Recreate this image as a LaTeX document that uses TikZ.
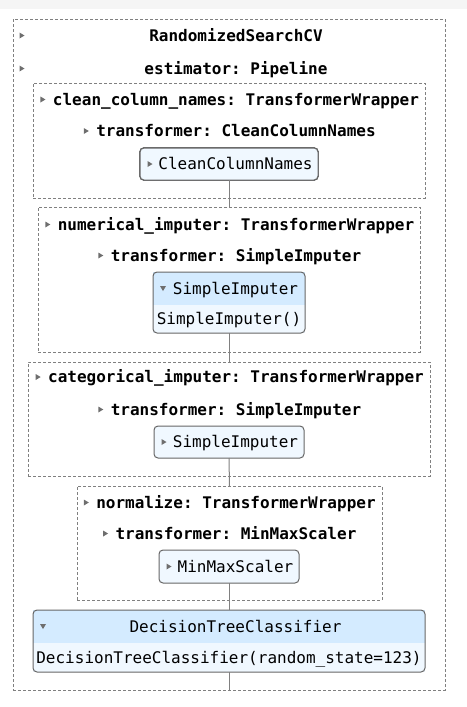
\documentclass[tikz,border=0pt]{standalone}
\usepackage{fontspec}
\setmonofont{DejaVu Sans Mono}
\usetikzlibrary{positioning}
\definecolor{headblue}{HTML}{D4EBFF}
\definecolor{bodyblue}{HTML}{F0F8FF}
\definecolor{markgray}{HTML}{6E6E6E}
\definecolor{linegray}{HTML}{808080}
\definecolor{edgegray}{HTML}{666666}
\definecolor{bandgray}{HTML}{F5F5F5}
\newdimen\pxunit \pxunit=0.75pt
\newcommand\sidetri[1]{\fill[markgray] #1 +(-2.5,-3) -- +(2.5,0) -- +(-2.5,3) -- cycle;}
\newcommand\downtri[1]{\fill[markgray] #1 +(-3,-2.5) -- +(3,-2.5) -- +(0,2.5) -- cycle;}
\begin{document}
\begin{tikzpicture}[x=0.75pt,y=-0.75pt,
    every node/.style={font=\ttfamily\fontsize{12}{14}\selectfont, outer sep=0pt},
    container/.style={draw=linegray, line width=0.75pt, dash pattern=on 2.25pt off 1.5pt, inner sep=0pt},
    title/.style={anchor=base, inner sep=0pt, font=\ttfamily\bfseries\fontsize{12}{14}\selectfont},
    estline/.style={draw=edgegray, line width=0.75pt, rounded corners=3pt},
    estbox/.style={estline, fill=bodyblue, inner sep=0pt, text height=11\pxunit, text depth=0pt},
    headfill/.style={fill=headblue, inner sep=0pt, text height=11\pxunit, text depth=0pt},
    bodyfill/.style={fill=bodyblue, inner sep=0pt, text height=11\pxunit, text depth=0pt},
    connector/.style={draw=linegray, line width=0.75pt}]
    \fill [bandgray] (0,0) rectangle (467,9);
    \useasboundingbox (0,0) rectangle (467,707);
    \node [container, minimum width=432*\pxunit, minimum height=671*\pxunit] (outer) at (229,354.5) {};
    \node [container, minimum width=392*\pxunit, minimum height=115*\pxunit] (cleanbox) at (229,140.5) {};
    \node [container, minimum width=382*\pxunit, minimum height=145*\pxunit] (numbox) at (229,279.5) {};
    \node [container, minimum width=402*\pxunit, minimum height=114*\pxunit] (catbox) at (229,419) {};
    \node [container, minimum width=305*\pxunit, minimum height=114*\pxunit] (normbox) at (229.5,543) {};
    \node [title] (searchlbl) at (236,41) {RandomizedSearchCV};
    \node [title] (pipelbl) at (236,74) {estimator: Pipeline};
    \node [title] (cleanlbl) at (236,105) {clean\_column\_names: TransformerWrapper};
    \node [title] (cleantrf) at (236,136.5) {transformer: CleanColumnNames};
    \node [title] (numlbl) at (236,230) {numerical\_imputer: TransformerWrapper};
    \node [title] (numtrf) at (236,261) {transformer: SimpleImputer};
    \node [title] (catlbl) at (236,382.5) {categorical\_imputer: TransformerWrapper};
    \node [title] (cattrf) at (236,415) {transformer: SimpleImputer};
    \node [title] (normlbl) at (236,508) {normalize: TransformerWrapper};
    \node [title] (normtrf) at (236,539) {transformer: MinMaxScaler};
    \sidetri{(22,35.5)}
    \sidetri{(22,68.5)}
    \foreach \n in {cleanlbl,cleantrf,numlbl,numtrf,catlbl,cattrf,normlbl,normtrf}
    \sidetri{(\n.base west) ++(-10,-5.5)}
    \node [estbox, minimum width=178*\pxunit, minimum height=32*\pxunit] (cleanest) at (229,164) {\hspace*{13\pxunit}CleanColumnNames};
    \node [headfill, minimum width=152*\pxunit, minimum height=33*\pxunit] (simphead) at (229,288.5) {\hspace*{13\pxunit}SimpleImputer};
    \node [bodyfill, minimum width=152*\pxunit, minimum height=28*\pxunit, below=0pt of simphead] (simpbody) {SimpleImputer()};
    \draw [estline] (simphead.north west) rectangle (simpbody.south east);
    \node [estbox, minimum width=150*\pxunit, minimum height=32*\pxunit] (catest) at (229,442) {\hspace*{13\pxunit}SimpleImputer};
    \node [estbox, minimum width=140*\pxunit, minimum height=33*\pxunit] (mmest) at (229,566.5) {\hspace*{13\pxunit}MinMaxScaler};
    \node [headfill, minimum width=392*\pxunit, minimum height=33*\pxunit] (dtchead) at (229,626.5) {\hspace*{13\pxunit}DecisionTreeClassifier};
    \node [bodyfill, minimum width=392*\pxunit, minimum height=29*\pxunit, below=0pt of dtchead] (dtcbody) {DecisionTreeClassifier(random\_state=123)};
    \draw [estline] (dtchead.north west) rectangle (dtcbody.south east);
    \sidetri{(cleanest.west) ++(10,0)}
    \sidetri{(catest.west) ++(10,0)}
    \sidetri{(mmest.west) ++(10,0)}
    \downtri{(simphead.west) ++(10,0)}
    \downtri{(dtchead.west) ++(10,0)}
    \draw [connector] (cleanest.south) -- (numbox.north);
    \draw [connector] (simpbody.south) -- (catbox.north);
    \draw [connector] (catest.south) -- (normbox.north);
    \draw [connector] (mmest.south) -- (dtchead.north);
    \draw [connector] (dtcbody.south) -- (outer.south);
\end{tikzpicture}
\end{document}
